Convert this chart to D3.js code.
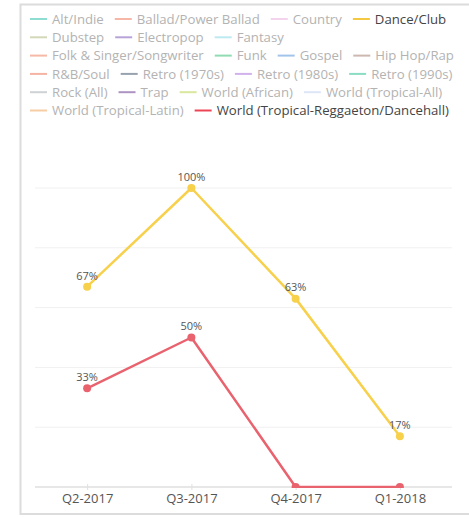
<!DOCTYPE html>
<html>
<head>
<meta charset="utf-8">
<script src="https://cdn.jsdelivr.net/npm/d3@7"></script>
<style>
  html, body { margin: 0; padding: 0; background: #fff; }
  svg { display: block; font-family: "Open Sans", sans-serif; }
</style>
</head>
<body>
<svg id="chart" width="469" height="517"></svg>
<script>
const quarters = ["Q2-2017", "Q3-2017", "Q4-2017", "Q1-2018"];
const danceClub = [67, 100, 63, 17];
const reggaeton = [33, 50, 0, 0];
const yTicks = [0, 20, 40, 60, 80, 100];

const legendNames = [
  "Alt/Indie", "Ballad/Power Ballad", "Country", "Dance/Club",
  "Dubstep", "Electropop", "Fantasy",
  "Folk & Singer/Songwriter", "Funk", "Gospel", "Hip Hop/Rap",
  "R&B/Soul", "Retro (1970s)", "Retro (1980s)", "Retro (1990s)",
  "Rock (All)", "Trap", "World (African)", "World (Tropical-All)",
  "World (Tropical-Latin)", "World (Tropical-Reggaeton/Dancehall)"
];
const legendColors = [
  "#8fdcd3", "#f6b7a8", "#f3d3ee", "#f5c842",
  "#d3d8b8", "#b8a3d8", "#bdeaf1",
  "#f6b9a7", "#8fdcb2", "#a3c4ea", "#cdb8b0",
  "#f4b3a3", "#98a1ae", "#d1b2ec", "#8adcc3",
  "#cfd2d5", "#ad93c2", "#d9e89c", "#dde6f7",
  "#f6cda4", "#ec4656"
];
const activeSeries = ["Dance/Club", "World (Tropical-Reggaeton/Dancehall)"];

const series = [
  { name: "Dance/Club", values: danceClub, color: "#f7d04c" },
  { name: "World (Tropical-Reggaeton/Dancehall)", values: reggaeton, color: "#e9636f" }
];

const svg = d3.select("#chart");

// frame
svg.append("path")
  .attr("d", "M470,4.5 H20.5 V514 H470")
  .attr("fill", "none").attr("stroke", "#dcdcdc").attr("stroke-width", 2);

// legend (flow layout)
const legend = svg.append("g");
const maxRight = 464, startX = 30, rowH = 18.3, firstRowY = 19;
let cx = startX, row = 0;
legendNames.forEach((name, i) => {
  const active = activeSeries.includes(name);
  const g = legend.append("g");
  const t = g.append("text")
    .attr("x", 22).attr("y", 0).attr("dy", "0.35em")
    .attr("font-size", 13.2)
    .attr("fill", active ? "#444" : "#b3b3b3")
    .text(name);
  const w = 22 + t.node().getComputedTextLength();
  if (cx + w > maxRight && cx > startX) { row++; cx = startX; }
  g.append("line").attr("x1", 0).attr("x2", 17).attr("y1", 0).attr("y2", 0)
    .attr("stroke", legendColors[i]).attr("stroke-width", 2);
  g.attr("transform", `translate(${cx},${firstRowY + row * rowH})`);
  cx += w + 11;
});

// scales
const x = d3.scalePoint().domain(quarters).range([35, 452]).padding(0.5);
const y = d3.scaleLinear().domain([0, 100]).range([487, 188]);

// clip for plot area
svg.append("defs").append("clipPath").attr("id", "plotclip")
  .append("rect").attr("x", 25).attr("y", 150).attr("width", 440).attr("height", y(0) - 150 + 1);

// gridlines
svg.append("g").selectAll("line").data(yTicks.filter(d => d > 0)).join("line")
  .attr("x1", 35).attr("x2", 452)
  .attr("y1", d => y(d)).attr("y2", d => y(d))
  .attr("stroke", "#f0f0f0").attr("stroke-width", 1);

// x axis
const xAxis = svg.append("g").attr("transform", `translate(0,${y(0)})`)
  .call(d3.axisBottom(x).tickSize(3).tickSizeOuter(0));
xAxis.select(".domain").remove();
xAxis.insert("line", ":first-child").attr("x1", 35).attr("x2", 452)
  .attr("stroke", "#cfcfcf").attr("stroke-width", 1);
xAxis.selectAll(".tick line").attr("stroke", "#e0e0e0").attr("y1", -3);
xAxis.selectAll(".tick text")
  .attr("font-family", "Open Sans, sans-serif")
  .attr("font-size", 13).attr("fill", "#555").attr("dy", "0.35em").attr("y", 11);

// lines
const line = d3.line().x((d, i) => x(quarters[i])).y(d => y(d));
series.forEach(s => {
  const g = svg.append("g").attr("clip-path", "url(#plotclip)");
  g.append("path").datum(s.values).attr("d", line)
    .attr("fill", "none").attr("stroke", s.color).attr("stroke-width", 2.5)
    .attr("stroke-linejoin", "round");
  g.selectAll("circle").data(s.values).join("circle")
    .attr("cx", (d, i) => x(quarters[i])).attr("cy", d => y(d)).attr("r", 4)
    .attr("fill", s.color);
  g.selectAll("text").data(s.values.map((v, i) => ({ v, i })).filter(d => d.v > 0)).join("text")
    .attr("x", d => x(quarters[d.i])).attr("y", d => y(d.v) - 11)
    .attr("dy", "0.35em").attr("text-anchor", "middle")
    .attr("font-size", 11).attr("fill", "#555")
    .text(d => d.v + "%");
});
</script>
</body>
</html>
